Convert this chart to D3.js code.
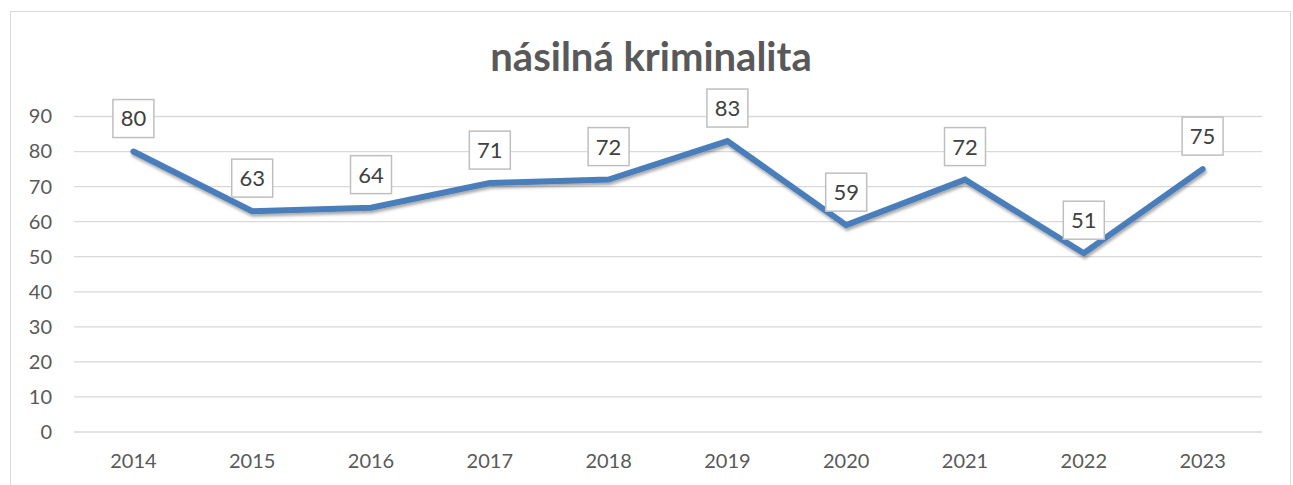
<!DOCTYPE html>
<html><head><meta charset="utf-8">
<script src="https://cdn.jsdelivr.net/npm/d3@7"></script>
<style>body{margin:0;background:#fff}svg{display:block}</style>
</head><body>
<svg id="c" width="1293" height="485"></svg>
<script>
const years = ["2014","2015","2016","2017","2018","2019","2020","2021","2022","2023"];
const values = [80,63,64,71,72,83,59,72,51,75];
const yTicks = [0,10,20,30,40,50,60,70,80,90];
const title = "násilná kriminalita";

const svg = d3.select("#c");
const font = "Lato, 'Open Sans', sans-serif";
svg.append("rect").attr("x",10.5).attr("y",11.5).attr("width",1280).attr("height",490)
  .attr("fill","#fff").attr("stroke","#d9d9d9").attr("stroke-width",1);

const x = d3.scaleBand().domain(years).range([74,1262]);
const y = d3.scaleLinear().domain([0,90]).range([432,116.5]);

const defs = svg.append("defs");
const f = defs.append("filter").attr("id","sh").attr("x","-10%").attr("y","-10%").attr("width","120%").attr("height","140%");
f.append("feDropShadow").attr("dx",1).attr("dy",2.5).attr("stdDeviation",1.8).attr("flood-color","#000").attr("flood-opacity",0.35);

// gridlines
svg.append("g").selectAll("line").data(yTicks).join("line")
  .attr("x1",74).attr("x2",1262).attr("y1",d=>y(d)).attr("y2",d=>y(d))
  .attr("stroke","#d9d9d9").attr("stroke-width",1.3);

// y axis labels
const yAxis = d3.axisLeft(y).tickValues(yTicks).tickSize(0).tickPadding(0);
const gy = svg.append("g").attr("transform","translate(52,0)").call(yAxis);
gy.select(".domain").remove();
gy.selectAll("text").attr("font-family",font).attr("font-size",20).attr("fill","#595959");

// x axis labels
const xAxis = d3.axisBottom(x).tickSize(0).tickPadding(0);
const gx = svg.append("g").attr("transform","translate(0,454)").call(xAxis);
gx.select(".domain").remove();
gx.selectAll("text").attr("font-family",font).attr("font-size",20).attr("fill","#595959");

// title
svg.append("text").attr("x",651).attr("y",71).attr("text-anchor","middle")
  .attr("font-family",font).attr("font-weight","bold").attr("font-size",40).attr("fill","#595959").text(title);

// line
const cx = d => x(d) + x.bandwidth()/2;
const line = d3.line().x((d,i)=>cx(years[i])).y(d=>y(d));
svg.append("path").datum(values).attr("d",line).attr("fill","none")
  .attr("stroke","#4a7ebb").attr("stroke-width",6).attr("stroke-linejoin","miter").attr("stroke-linecap","round")
  .attr("filter","url(#sh)");

// data labels
const lg = svg.append("g").selectAll("g").data(values).join("g")
  .attr("transform",(d,i)=>`translate(${cx(years[i])},${y(d)-33})`);
lg.append("rect").attr("x",-20.5).attr("y",-19).attr("width",41).attr("height",38)
  .attr("fill","#fff").attr("stroke","#bfbfbf").attr("stroke-width",1.5);
lg.append("text").attr("text-anchor","middle").attr("dy","0.36em")
  .attr("font-family",font).attr("font-size",22).attr("fill","#404040").text(d=>d);
</script>
</body></html>
